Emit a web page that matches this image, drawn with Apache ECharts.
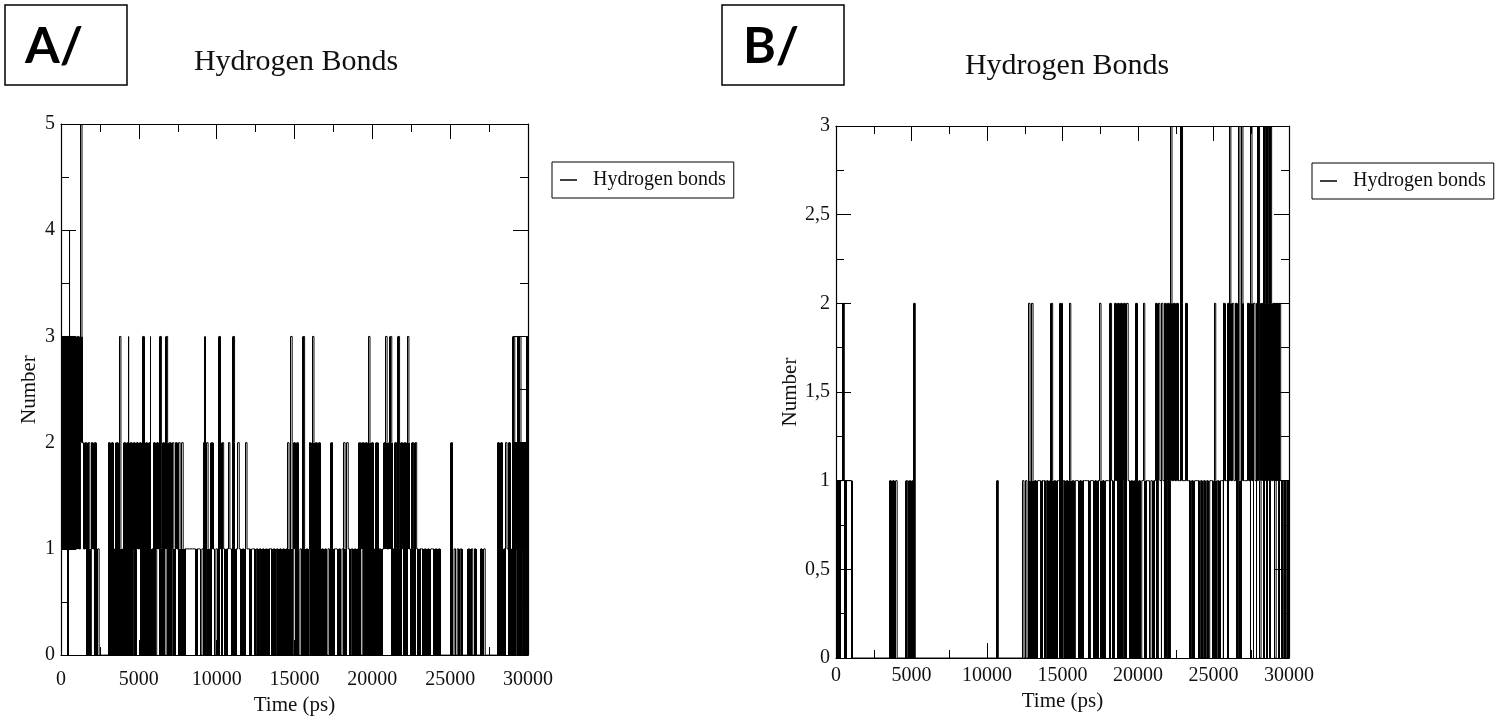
<!DOCTYPE html>
<html>
<head>
<meta charset="utf-8">
<title>Hydrogen Bonds</title>
<script src="https://cdn.jsdelivr.net/npm/echarts@6.0.0/dist/echarts.min.js"></script>
<style>
html, body { margin: 0; padding: 0; background: #fff; }
#chart { width: 1509px; height: 721px; }
</style>
</head>
<body>
<div id="chart"></div>
<script>
// time axis (ps) and the number axes
var timeMax = 30000;
var timeStep = 5000;
var numMaxA = 5;
var numMaxB = 3;

// traces: one digit per 100 ps bin,
// lowest and highest number of bonds seen in that bin
var lowA =
	"1111011111 1122110001 1000000000 0000000000 0000001001 1000000000 " +
	"0110000100 0100100000 1111110010 1001000101 0010100110 0001100001 " +
	"1001010100 0000101010 0000000001 0001000001 0000000000 0100001000 " +
	"1000101000 0001000000 0000000111 1100000001 0001000010 0100000010 " +
	"0000000000 0010101000 0000000000 0000000000 0000001000 0010001000";
var highA =
	"3333343333 3353222212 2221000000 2222122311 2223222222 2233222312 " +
	"2223122322 2212221211 1111111111 1232112211 1332111211 3212111121 " +
	"1111111111 1111111111 1111121312 2221131112 2322222111 1112211111 " +
	"1212111111 1222222322 2122111232 2321213122 2232121211 1111111111 " +
	"1111000000 2111111100 0111011001 1100000000 2222121221 3223322223";

var lowB =
	"0001100111 0000000000 0000000000 0000000000 0000000000 0000000000 " +
	"0000000000 0000000000 0000000000 0000000000 0000000000 0000000000 " +
	"0000000000 0000100101 0000000100 1000000011 0000111011 0000100011 " +
	"1010010000 1001000000 0011001010 0101101001 0111111111 1111010011 " +
	"0101010110 0010010110 1111101001 1111010101 0110101011 0110101010";
var highB =
	"1111211111 1000000000 0000000000 0000011111 0000001011 1200000000 " +
	"0000000000 0000000000 0000000000 0000000000 0000001000 0000000000 " +
	"0001010212 1111111111 1121111122 1111211111 1111111111 1111211111 " +
	"1211222222 2221111122 1112111111 1222121222 2322222132 1221111111 " +
	"1111111111 2111112212 3221223132 1122322123 1223232322 2222111111";

/**
 * 每个时间格一项: [tLeft, tRight, low, high, tPrev, vPrev, vFirst]
 * 区间内来回跳动画成实心竖条，格与格之间用折线相连
 */
function trace(lowStr, highStr) {
	var lo = lowStr.replace(/ /g, '');
	var hi = highStr.replace(/ /g, '');
	var n = lo.length;
	var step = timeMax / n;
	var items = [];
	var lastT = null, last = null;
	for (var i = 0; i < n; i++) {
		var t0 = i * step, t1 = t0 + step, tm = t0 + step / 2;
		var a = +lo.charAt(i), b = +hi.charAt(i);
		var first = a, second = b;
		if (last !== null && Math.abs(last - b) < Math.abs(last - a)) {
			first = b;
			second = a;
		}
		if (last === null) {
			lastT = t0;
			last = first;
		}
		items.push([t0, t1, a, b, lastT, last, first]);
		lastT = tm;
		last = second;
	}
	return items;
}

function renderTrace(params, api) {
	var lo = api.value(2), hi = api.value(3);
	var tm = (api.value(0) + api.value(1)) / 2;
	var left = api.coord([api.value(0), hi]);
	var right = api.coord([api.value(1), lo]);
	var x0 = Math.round(left[0]), x1 = Math.round(right[0]);
	if (x1 <= x0) {
		x1 = x0 + 1;
	}
	var from = api.coord([api.value(4), api.value(5)]);
	var to = api.coord([tm, api.value(6)]);
	var children = [{
		type: 'polyline',
		shape: { points: [from, [to[0], from[1]], to] },
		style: { stroke: '#000', lineWidth: 1, fill: null }
	}];
	if (hi > lo) {
		children.push({
			type: 'rect',
			shape: { x: x0, y: left[1], width: x1 - x0, height: right[1] - left[1] },
			style: { fill: '#000' }
		});
	}
	return { type: 'group', children: children };
}

var serif = 'Liberation Serif';
var ink = '#111';

function xAxes(grid, labelGap, nameGap) {
	var base = {
		gridIndex: grid,
		type: 'value',
		min: 0,
		max: timeMax,
		interval: timeStep,
		splitLine: { show: false },
		axisLine: { onZero: false, lineStyle: { color: '#000', width: 1.2 } },
		axisTick: { inside: true, length: 15, lineStyle: { color: '#000' } },
		minorTick: { show: true, splitNumber: 2, length: 8, lineStyle: { color: '#000' } }
	};
	var bottom = echarts.util.merge({
		position: 'bottom',
		name: 'Time (ps)',
		nameLocation: 'middle',
		nameGap: nameGap,
		nameTextStyle: { fontFamily: serif, fontSize: 21, color: ink },
		axisLabel: {
			margin: labelGap, fontFamily: serif, fontSize: 20, color: ink,
			formatter: function(v) { return String(v); }
		}
	}, base, true);
	var top = echarts.util.merge({
		position: 'top',
		axisLabel: { show: false }
	}, base, true);
	return [bottom, top];
}

function yAxes(grid, max, step, nameGap) {
	var base = {
		gridIndex: grid,
		type: 'value',
		min: 0,
		max: max,
		interval: step,
		splitLine: { show: false },
		axisLine: { show: true, onZero: false, lineStyle: { color: '#000', width: 1.2 } },
		axisTick: { show: true, inside: true, length: 15, lineStyle: { color: '#000' } },
		minorTick: { show: true, splitNumber: 2, length: 8, lineStyle: { color: '#000' } }
	};
	var left = echarts.util.merge({
		position: 'left',
		name: 'Number',
		nameLocation: 'middle',
		nameGap: nameGap,
		nameTextStyle: { fontFamily: serif, fontSize: 21, color: ink },
		axisLabel: {
			margin: 6, fontFamily: serif, fontSize: 20, color: ink,
			formatter: function(v) { return String(v).replace('.', ','); }
		}
	}, base, true);
	var right = echarts.util.merge({
		position: 'right',
		axisLabel: { show: false }
	}, base, true);
	return [left, right];
}

function legend(left, top, seriesName) {
	return {
		left: left,
		top: top,
		orient: 'vertical',
		data: [seriesName],
		selectedMode: false,
		borderColor: '#000',
		borderWidth: 1,
		padding: [8, 8, 8, 8],
		icon: 'rect',
		itemWidth: 17,
		itemHeight: 1.5,
		textStyle: { fontFamily: serif, fontSize: 20, color: ink, padding: [0, 0, 0, 11] }
	};
}

function panelLabel(x, y, txt) {
	return [{
		type: 'rect',
		shape: { x: x, y: y, width: 122, height: 80 },
		style: { fill: 'none', stroke: '#000', lineWidth: 1.5 }
	}, {
		type: 'text',
		style: { x: x + 49, y: y + 42, text: txt, font: 'bold 50px Lato', fill: '#000',
			textAlign: 'center', textVerticalAlign: 'middle' }
	}];
}

function heading(x, y) {
	return {
		type: 'text',
		style: { x: x, y: y, text: 'Hydrogen Bonds', font: '30px "Liberation Serif"', fill: ink,
			textAlign: 'center', textVerticalAlign: 'middle' }
	};
}

function traceSeries(xIndex, yIndex, low, high) {
	return {
		name: 'Hydrogen bonds',
		type: 'custom',
		xAxisIndex: xIndex,
		yAxisIndex: yIndex,
		clip: true,
		silent: true,
		itemStyle: { color: '#000' },
		encode: { x: [0, 1, 4], y: [2, 3, 5, 6] },
		renderItem: renderTrace,
		data: trace(low, high)
	};
}

var chart = echarts.init(document.getElementById('chart'), null, { renderer: 'canvas' });

var option = {
	backgroundColor: '#fff',
	animation: false,
	grid: [
		{ left: 61, top: 124, width: 467, height: 545 },
		{ left: 836, top: 126, width: 453, height: 532 }
	],
	xAxis: xAxes(0, 15, 34).concat(xAxes(1, 8, 22)),
	yAxis: yAxes(0, numMaxA, 1, 21).concat(yAxes(1, numMaxB, 0.5, 26)),
	legend: [
		legend(552, 162, 'Hydrogen bonds'),
		legend(1312, 163, 'Hydrogen bonds')
	],
	graphic: panelLabel(5, 5, 'A/')
		.concat(panelLabel(722, 5, 'B/'))
		.concat([heading(296, 62), heading(1067, 66)]),
	series: [
		traceSeries(0, 0, lowA, highA),
		traceSeries(2, 2, lowB, highB)
	]
};

chart.setOption(option);
</script>
</body>
</html>
